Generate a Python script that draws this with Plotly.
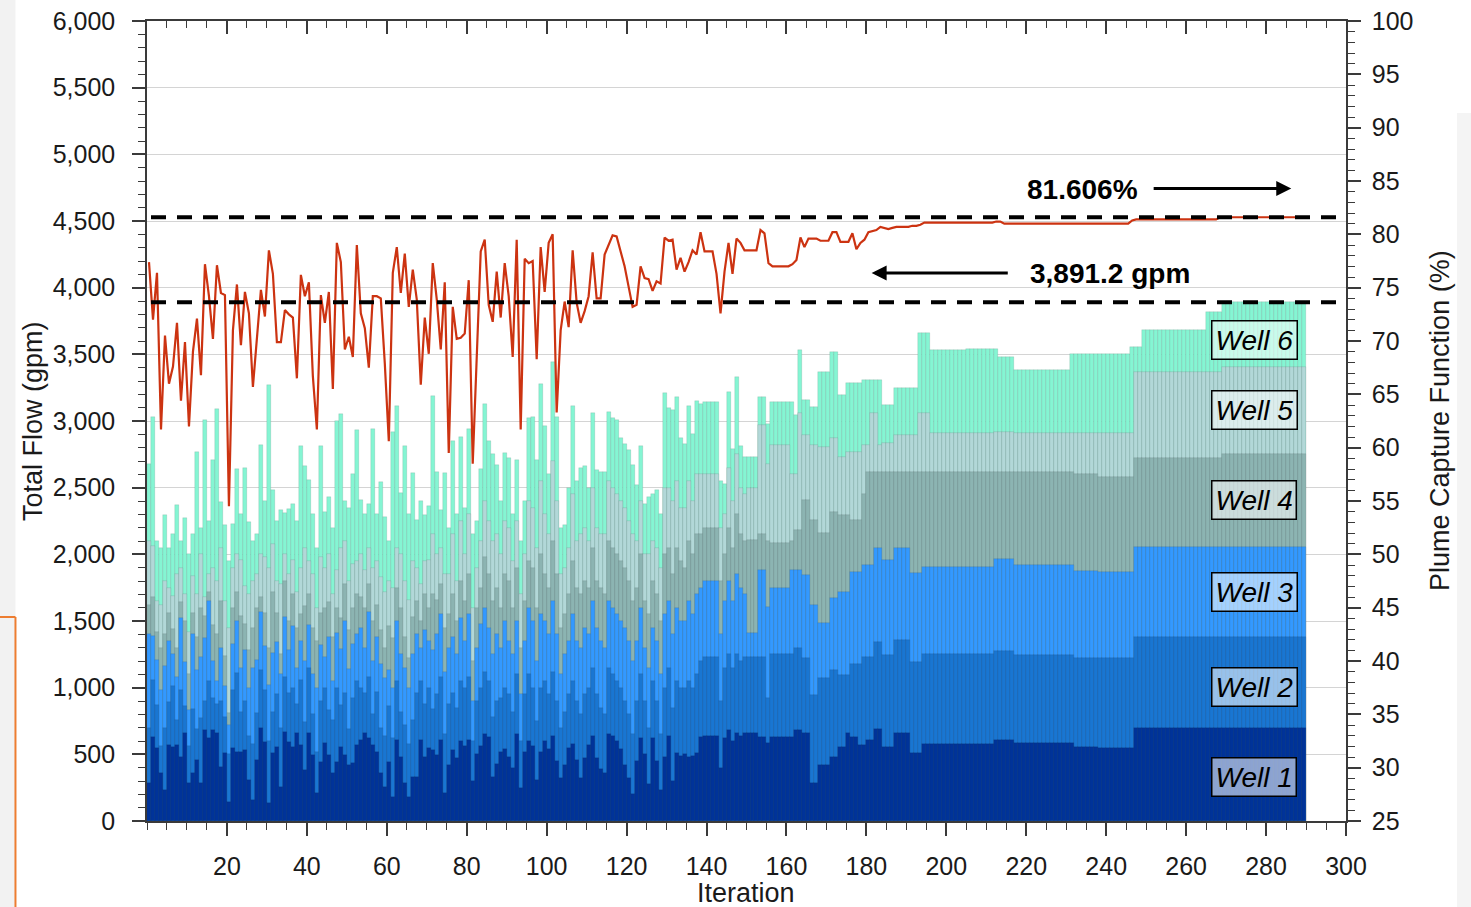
import plotly.graph_objects as go

# ---------------- data ----------------
iterations = list(range(1, 291))

# cumulative stack tops (gpm) for each well, bottom (Well 1) to top (Well 6 = total flow)
well1_top = [
    282, 632, 545, 357, 232, 570, 557, 570, 482, 657,
    282, 357, 457, 282, 682, 620, 682, 657, 407, 507,
    145, 545, 520, 520, 532, 307, 157, 457, 695, 595,
    132, 507, 557, 257, 670, 595, 557, 657, 570, 382,
    657, 495, 207, 445, 582, 495, 357, 445, 557, 495,
    420, 432, 570, 607, 657, 620, 570, 520, 357, 257,
    445, 182, 607, 482, 282, 182, 332, 332, 607, 482,
    545, 532, 495, 607, 207, 420, 530, 470, 600, 560,
    610, 300, 500, 560, 650, 630, 330, 430, 520, 540,
    480, 400, 650, 250, 520, 600, 560, 310, 520, 600,
    540, 640, 450, 320, 420, 550, 580, 460, 320, 470,
    570, 640, 470, 390, 360, 650, 640, 600, 540, 420,
    320, 200, 450, 620, 500, 280, 620, 450, 230, 480,
    640, 300, 510, 490, 500, 480, 490, 510, 630, 640,
    640, 640, 640, 400, 620, 680, 600, 660, 640, 660,
    657, 657, 657, 632, 632, 582, 632, 632, 632, 632,
    632, 632, 682, 682, 657, 657, 282, 282, 420, 420,
    420, 482, 482, 557, 557, 657, 632, 632, 570, 570,
    607, 607, 687, 687, 557, 557, 557, 657, 657, 657,
    657, 512, 512, 512, 577, 577, 577, 577, 577, 577,
    577, 577, 577, 577, 577, 577, 577, 577, 577, 577,
    577, 577, 607, 607, 607, 607, 607, 587, 587, 587,
    587, 587, 587, 587, 587, 587, 587, 587, 587, 587,
    587, 587, 557, 557, 557, 557, 557, 557, 547, 547,
    547, 547, 547, 547, 547, 547, 547, 697, 697, 697,
    697, 697, 697, 697, 697, 697, 697, 697, 697, 697,
    697, 697, 697, 697, 697, 697, 697, 697, 697, 697,
    697, 697, 697, 697, 697, 697, 697, 697, 697, 697,
    697, 697, 697, 697, 697, 697, 697, 697, 697, 697,
]

well2_top = [
    700, 1060, 870, 560, 700, 890, 1010, 760, 980, 860,
    560, 840, 690, 770, 900, 1050, 920, 880, 900, 780,
    500, 980, 1110, 820, 900, 640, 580, 810, 1130, 980,
    600, 820, 950, 700, 1080, 960, 1000, 880, 1060, 740,
    1150, 800, 520, 900, 1000, 830, 760, 1000, 870, 960,
    690, 920, 1050, 1000, 960, 1080, 800, 970, 700, 640,
    860, 620, 1050, 820, 720, 580, 760, 960, 1050, 880,
    1000, 840, 950, 1080, 650, 880, 960, 850, 1050, 1000,
    1080, 600, 900, 1000, 1120, 1050, 780, 900, 920, 1000,
    950, 820, 1100, 600, 950, 1100, 1000, 750, 1000, 1050,
    950, 1120, 900, 700, 820, 950, 1050, 900, 800, 950,
    1000, 1150, 950, 850, 800, 1150, 1100, 1050, 1000, 900,
    800, 650, 900, 1100, 900, 700, 1050, 900, 650, 1000,
    1150, 850, 1050, 1000, 1000, 1050, 1000, 1100, 1200, 1230,
    1230, 1230, 1230, 900, 1150, 1250, 1150, 1250, 1200, 1230,
    1232, 1232, 1232, 1232, 1232, 920, 1252, 1252, 1252, 1252,
    1252, 1252, 1295, 1295, 1220, 1220, 945, 945, 1070, 1070,
    1070, 1132, 1132, 1095, 1095, 1095, 1177, 1177, 1177, 1232,
    1232, 1232, 1345, 1345, 1245, 1245, 1245, 1357, 1357, 1357,
    1357, 1195, 1195, 1195, 1252, 1252, 1252, 1252, 1252, 1252,
    1252, 1252, 1252, 1252, 1252, 1252, 1252, 1252, 1252, 1252,
    1252, 1252, 1277, 1277, 1277, 1277, 1277, 1245, 1245, 1245,
    1245, 1245, 1245, 1245, 1245, 1245, 1245, 1245, 1245, 1245,
    1245, 1245, 1220, 1220, 1220, 1220, 1220, 1220, 1220, 1220,
    1220, 1220, 1220, 1220, 1220, 1220, 1220, 1380, 1380, 1380,
    1380, 1380, 1380, 1380, 1380, 1380, 1380, 1380, 1380, 1380,
    1380, 1380, 1380, 1380, 1380, 1380, 1380, 1380, 1380, 1380,
    1380, 1380, 1380, 1380, 1380, 1380, 1380, 1380, 1380, 1380,
    1380, 1380, 1380, 1380, 1380, 1380, 1380, 1380, 1380, 1380,
]

well3_top = [
    1400, 1390, 1210, 980, 1160, 1350, 1250, 1080, 1520, 1190,
    830, 1400, 1130, 1230, 1370, 1650, 1200, 1050, 1300, 1010,
    720, 1330, 1500, 1150, 1280, 1000, 1150, 1210, 1570, 1310,
    1020, 1260, 1340, 1100, 1530, 1280, 1460, 1150, 1350, 1200,
    1470, 1100, 1000, 1320, 1230, 1380, 1050, 1410, 1290, 1500,
    1140, 1330, 1400, 1450, 1300, 1570, 1200, 1380, 1180, 1070,
    1130, 1000, 1500, 1250, 1150, 1000, 1250, 1400, 1300, 1430,
    1350, 1280, 1400, 1550, 1120, 1300, 1380, 1250, 1520, 1350,
    1550, 900, 1300, 1480, 1600, 1450, 1250, 1400, 1300, 1500,
    1350, 1250, 1500, 950, 1350, 1600, 1500, 1200, 1550, 1500,
    1400, 1650, 1400, 1100, 1250, 1350, 1550, 1350, 1300, 1450,
    1400, 1650, 1450, 1350, 1300, 1650, 1600, 1550, 1500, 1450,
    1350, 1200, 1350, 1600, 1300, 1150, 1450, 1350, 1100, 1550,
    1650, 1400, 1600, 1500, 1500, 1650, 1550, 1700, 1750, 1800,
    1800, 1800, 1800, 1400, 1650, 1800, 1650, 1850, 1750, 1700,
    1407, 1407, 1407, 1882, 1882, 1607, 1745, 1745, 1745, 1745,
    1745, 1882, 1882, 1882, 1845, 1845, 1620, 1620, 1487, 1487,
    1487, 1670, 1670, 1720, 1720, 1720, 1870, 1870, 1870, 1920,
    1920, 1920, 2045, 2045, 1957, 1957, 1957, 2045, 2045, 2045,
    2045, 1857, 1857, 1857, 1907, 1907, 1907, 1907, 1907, 1907,
    1907, 1907, 1907, 1907, 1907, 1907, 1907, 1907, 1907, 1907,
    1907, 1907, 1965, 1965, 1965, 1965, 1965, 1920, 1920, 1920,
    1920, 1920, 1920, 1920, 1920, 1920, 1920, 1920, 1920, 1920,
    1920, 1920, 1877, 1877, 1877, 1877, 1877, 1877, 1867, 1867,
    1867, 1867, 1867, 1867, 1867, 1867, 1867, 2055, 2055, 2055,
    2055, 2055, 2055, 2055, 2055, 2055, 2055, 2055, 2055, 2055,
    2055, 2055, 2055, 2055, 2055, 2055, 2055, 2055, 2055, 2055,
    2055, 2055, 2055, 2055, 2055, 2055, 2055, 2055, 2055, 2055,
    2055, 2055, 2055, 2055, 2055, 2055, 2055, 2055, 2055, 2055,
]

well4_top = [
    1620, 1680, 1420, 1300, 1400, 1560, 1440, 1300, 1640, 1500,
    1100, 1560, 1380, 1600, 1540, 1720, 1470, 1400, 1650, 1240,
    810, 1600, 1720, 1540, 1480, 1280, 1450, 1600, 1680, 1560,
    1300, 1720, 1560, 1250, 1800, 1500, 1700, 1450, 1550, 1610,
    1700, 1450, 1350, 1560, 1600, 1640, 1380, 1600, 1520, 1780,
    1430, 1600, 1700, 1680, 1600, 1780, 1500, 1620, 1430, 1300,
    1460, 1370, 1750, 1600, 1380, 1220, 1530, 1650, 1500, 1700,
    1600, 1700, 1660, 1780, 1450, 1550, 1700, 1500, 1800, 1650,
    1850, 1200, 1600, 1750, 1980, 1850, 1650, 1750, 1600, 1850,
    1800, 1600, 1900, 1300, 1650, 1950, 1900, 1600, 2000, 1850,
    1750, 2100, 1850, 1450, 1550, 1700, 1950, 1750, 1700, 1800,
    1750, 2050, 1800, 1750, 1700, 2100, 2050, 2000, 1950, 1900,
    1800, 1650, 1750, 2000, 1650, 1550, 1800, 1700, 1500, 2000,
    2050, 1850, 2050, 1950, 1900, 2100, 2000, 2150, 2150, 2200,
    2200, 2200, 2200, 1800, 2000, 2200, 2050, 2300, 2150, 2100,
    2107, 2107, 2107, 2150, 2150, 2100, 2082, 2082, 2082, 2082,
    2082, 2100, 2182, 2182, 2407, 2407, 2257, 2257, 2157, 2157,
    2157, 2320, 2320, 2295, 2295, 2295, 2257, 2257, 2257, 2450,
    2620, 2620, 2620, 2620, 2620, 2620, 2620, 2620, 2620, 2620,
    2620, 2620, 2620, 2620, 2620, 2620, 2620, 2620, 2620, 2620,
    2620, 2620, 2620, 2620, 2620, 2620, 2620, 2620, 2620, 2620,
    2620, 2620, 2620, 2620, 2620, 2620, 2620, 2620, 2620, 2620,
    2620, 2620, 2620, 2620, 2620, 2620, 2620, 2620, 2620, 2620,
    2620, 2620, 2600, 2600, 2600, 2600, 2600, 2600, 2580, 2580,
    2580, 2580, 2580, 2580, 2580, 2580, 2580, 2722, 2722, 2722,
    2722, 2722, 2722, 2722, 2722, 2722, 2722, 2722, 2722, 2722,
    2722, 2722, 2722, 2722, 2722, 2722, 2722, 2722, 2722, 2752,
    2752, 2752, 2752, 2752, 2752, 2752, 2752, 2752, 2752, 2752,
    2752, 2752, 2752, 2752, 2752, 2752, 2752, 2752, 2752, 2752,
]

well5_top = [
    2100, 2060, 1650, 1620, 1800, 1750, 1690, 1850, 1900, 1700,
    1420, 1840, 1700, 2000, 1680, 1850, 1900, 1800, 2050, 1650,
    1450, 1900, 2000, 1960, 1760, 1700, 1800, 1850, 2000, 1980,
    1900, 2080, 1800, 1780, 2000, 1850, 1960, 1720, 1900, 2050,
    1950, 1850, 1600, 1980, 1900, 2000, 1700, 1880, 2050, 2100,
    1800, 1930, 1950, 2000, 1880, 2050, 1900, 1950, 1830, 1720,
    1800, 1750, 2050, 2000, 1800, 1660, 1950, 1900, 1780, 1950,
    1960, 2150, 2000, 2050, 1850, 1850, 2150, 1800, 2250, 2000,
    2300, 1600, 1900, 2100, 2400, 2250, 2100, 2150, 2000, 2250,
    2200, 1950, 2250, 1700, 2000, 2400, 2350, 2050, 2550, 2300,
    2150, 2700, 2400, 1850, 1900, 2050, 2450, 2100, 2150, 2200,
    2100, 2500, 2200, 2150, 2150, 2550, 2500, 2450, 2400, 2350,
    2250, 2150, 2100, 2400, 2000, 2000, 2100, 2050, 1900, 2500,
    2500, 2400, 2550, 2350, 2350, 2550, 2400, 2600, 2600, 2600,
    2600, 2600, 2600, 2200, 2300, 2650, 2400, 2750, 2500, 2450,
    2500, 2500, 2500, 2970, 2970, 2680, 2820, 2820, 2820, 2820,
    2820, 2600, 2600, 3057, 2895, 2895, 2820, 2820, 2807, 2807,
    2807, 2870, 2870, 2732, 2732, 2770, 2770, 2770, 2770, 2820,
    2820, 3057, 3057, 2820, 2832, 2832, 2832, 2895, 2895, 2895,
    2895, 2895, 2895, 3057, 3057, 3057, 2907, 2907, 2907, 2907,
    2907, 2907, 2907, 2907, 2907, 2907, 2907, 2907, 2907, 2907,
    2907, 2907, 2920, 2920, 2920, 2920, 2920, 2907, 2907, 2907,
    2907, 2907, 2907, 2907, 2907, 2907, 2907, 2907, 2907, 2907,
    2907, 2907, 2907, 2907, 2907, 2907, 2907, 2907, 2907, 2907,
    2907, 2907, 2907, 2907, 2907, 2907, 2907, 3370, 3370, 3370,
    3370, 3370, 3370, 3370, 3370, 3370, 3370, 3370, 3370, 3370,
    3370, 3370, 3370, 3370, 3370, 3370, 3370, 3370, 3370, 3407,
    3407, 3407, 3407, 3407, 3407, 3407, 3407, 3407, 3407, 3407,
    3407, 3407, 3407, 3407, 3407, 3407, 3407, 3407, 3407, 3407,
]

well6_top = [
    2680, 3030, 2100, 2050, 2295, 2050, 2150, 2370, 2100, 2270,
    2000, 2150, 2770, 2200, 3010, 2250, 2710, 3090, 2395, 2220,
    1950, 2230, 2640, 2300, 2650, 2240, 2100, 2150, 2820, 2400,
    3270, 2480, 2250, 2330, 2310, 2340, 2380, 2250, 2810, 2660,
    2560, 2300, 2050, 2810, 2320, 2430, 2200, 3000, 3050, 2400,
    2350, 2600, 2930, 2410, 2300, 2380, 2940, 2300, 2540, 2280,
    2100, 2920, 3110, 2460, 2810, 2300, 2610, 2260, 2400, 2295,
    2360, 3190, 2620, 2330, 2610, 2200, 2850, 2300, 2880, 2350,
    2940, 2150, 2250, 2640, 3130, 2850, 2750, 2670, 2400, 2760,
    2720, 2300, 2710, 2100, 2400, 3020, 3030, 2710, 3280, 2960,
    2600, 3440, 3030, 2200, 2220, 2500, 3110, 2550, 2650, 2660,
    2500, 3060, 2630, 2620, 2620, 3070, 3020, 3010, 2870, 2830,
    2780, 2670, 2520, 2810, 2380, 2430, 2450, 2480, 2300, 3210,
    3100, 3080, 3180, 2870, 2830, 3110, 2900, 3150, 3130, 3140,
    3140, 3140, 3140, 2550, 2530, 3220, 2790, 3330, 2810, 2730,
    2730, 2730, 2730, 3180, 3180, 2980, 3143, 3143, 3143, 3143,
    3143, 3143, 3045, 3532, 3158, 3158, 3105, 3105, 3368, 3368,
    3368, 3518, 3518, 3195, 3195, 3285, 3285, 3285, 3285, 3308,
    3308, 3308, 3308, 3308, 3120, 3120, 3120, 3248, 3248, 3248,
    3248, 3248, 3248, 3660, 3660, 3660, 3532, 3532, 3532, 3532,
    3532, 3532, 3532, 3532, 3532, 3540, 3540, 3540, 3540, 3540,
    3540, 3540, 3540, 3480, 3480, 3480, 3480, 3382, 3382, 3382,
    3382, 3382, 3382, 3382, 3382, 3382, 3382, 3382, 3382, 3382,
    3382, 3500, 3500, 3500, 3500, 3500, 3500, 3500, 3500, 3500,
    3500, 3500, 3500, 3500, 3500, 3500, 3555, 3555, 3555, 3682,
    3682, 3682, 3682, 3682, 3682, 3682, 3682, 3682, 3682, 3682,
    3682, 3682, 3682, 3682, 3682, 3817, 3817, 3817, 3817, 3892,
    3892, 3892, 3892, 3892, 3892, 3892, 3892, 3892, 3892, 3892,
    3892, 3892, 3892, 3892, 3892, 3892, 3892, 3892, 3892, 3892,
]

# plume capture function (%) per iteration (right axis)
capture_pct = [
    77.4, 72.0, 76.4, 61.7, 70.5, 66.0, 67.6, 71.7, 64.4, 69.9,
    62.0, 69.0, 72.1, 66.8, 77.2, 74.2, 70.2, 77.1, 74.5, 74.3,
    54.5, 71.0, 75.3, 69.6, 74.6, 72.6, 65.7, 70.3, 74.8, 72.3,
    78.5, 76.3, 69.9, 69.9, 72.9, 72.5, 72.2, 66.5, 76.2, 74.2,
    75.5, 66.7, 61.7, 74.3, 71.7, 74.6, 65.5, 79.2, 77.4, 69.2,
    70.4, 68.5, 79.0, 72.6, 71.2, 67.5, 74.2, 74.2, 74.0, 67.9,
    60.6, 76.4, 78.8, 74.5, 78.2, 73.2, 76.7, 73.9, 65.9, 72.2,
    68.8, 77.3, 73.9, 69.2, 75.5, 59.5, 73.2, 70.2, 70.3, 70.7,
    75.7, 58.5, 68.2, 78.4, 79.5, 73.4, 71.8, 76.5, 72.2, 77.3,
    74.2, 68.5, 79.5, 61.7, 77.7, 77.3, 77.5, 68.3, 78.8, 74.6,
    79.2, 80.0, 63.3, 71.0, 73.7, 71.3, 78.5, 73.6, 71.7, 72.8,
    74.2, 78.3, 74.0, 74.0, 78.1, 79.0, 79.9, 79.8, 78.5, 77.0,
    75.1, 73.2, 73.4, 77.0, 75.9, 75.8, 74.7, 75.6, 75.4, 79.7,
    79.4, 79.5, 76.7, 77.8, 76.5, 77.4, 78.5, 78.1, 80.2, 78.4,
    78.4, 78.4, 76.3, 72.6, 76.5, 79.2, 76.3, 79.6, 79.2, 78.5,
    78.5, 78.5, 78.5, 80.4, 80.1, 77.3, 77.0, 77.0, 77.0, 77.0,
    77.0, 77.2, 77.6, 79.7, 78.8, 79.6, 79.6, 79.6, 79.4, 79.4,
    79.4, 80.2, 80.2, 79.3, 79.3, 79.3, 80.1, 78.6, 79.2, 79.5,
    80.2, 80.3, 80.4, 80.7, 80.6, 80.5, 80.6, 80.7, 80.7, 80.7,
    80.7, 80.8, 80.8, 80.9, 81.1, 81.1, 81.1, 81.1, 81.1, 81.1,
    81.1, 81.1, 81.1, 81.1, 81.1, 81.1, 81.1, 81.1, 81.1, 81.1,
    81.1, 81.1, 81.2, 81.2, 81.0, 81.0, 81.0, 81.0, 81.0, 81.0,
    81.0, 81.0, 81.0, 81.0, 81.0, 81.0, 81.0, 81.0, 81.0, 81.0,
    81.0, 81.0, 81.0, 81.0, 81.0, 81.0, 81.0, 81.0, 81.0, 81.0,
    81.0, 81.0, 81.0, 81.0, 81.0, 81.0, 81.3, 81.4, 81.4, 81.4,
    81.4, 81.4, 81.4, 81.4, 81.4, 81.4, 81.4, 81.4, 81.4, 81.4,
    81.4, 81.4, 81.4, 81.4, 81.4, 81.4, 81.4, 81.4, 81.6, 81.6,
    81.6, 81.6, 81.6, 81.6, 81.6, 81.6, 81.6, 81.6, 81.6, 81.6,
    81.6, 81.6, 81.6, 81.6, 81.6, 81.6, 81.6, 81.6, 81.6, 81.6,
]

best_capture = 81.606
best_flow = 3891.2
well_names = ["Well 1", "Well 2", "Well 3", "Well 4", "Well 5", "Well 6"]
well_label_y = [330, 1005, 1717, 2407, 3082, 3607]
x_ticks = list(range(20, 301, 20))

# ---------------- styling ----------------
FONT = "Liberation Sans, Arial, Helvetica, sans-serif"
colors = ["#003399", "#1976d2", "#3399ff", "#8cb4b2", "#b2d8d8", "#85f5d3"]
tops = [well1_top, well2_top, well3_top, well4_top, well5_top, well6_top]
xpos = [i - 0.5 for i in iterations]

fig = go.Figure()

# draw cumulative tops from the total downwards (overlay == stacked look)
for k in range(5, -1, -1):
    fig.add_trace(go.Bar(
        x=xpos, y=tops[k], width=1.0, name=well_names[k],
        marker=dict(color=colors[k], line=dict(color="rgba(40,40,40,0.22)", width=0.5)),
        showlegend=False, hoverinfo="skip",
    ))

fig.add_trace(go.Scatter(
    x=xpos, y=capture_pct, mode="lines", yaxis="y2",
    line=dict(color="#cc3311", width=2.2), showlegend=False, hoverinfo="skip",
))

# invisible trace to activate the mirrored top axis
fig.add_trace(go.Scatter(x=[0], y=[0], xaxis="x2", mode="markers",
                         marker=dict(opacity=0), showlegend=False, hoverinfo="skip"))

axis_line = "#3a3a3a"
tickfont = dict(family=FONT, size=25, color="#1a1a1a")

fig.update_layout(
    width=1471, height=907,
    margin=dict(l=147, r=125, t=21, b=86, autoexpand=False),
    paper_bgcolor="white", plot_bgcolor="white",
    barmode="overlay", bargap=0,
    font=dict(family=FONT, color="#1a1a1a"),
    xaxis=dict(
        range=[0, 300], tickmode="array", tickvals=x_ticks, automargin=False,
        ticks="outside", ticklen=13, tickwidth=1.5, tickcolor=axis_line,
        minor=dict(tickvals=list(range(0, 301, 5)), ticks="outside", ticklen=7,
                   tickwidth=1.2, tickcolor=axis_line),
        showline=True, linecolor=axis_line, linewidth=1.6,
        showgrid=False, zeroline=False, tickfont=tickfont, ticklabelstandoff=9,
    ),
    xaxis2=dict(
        range=[0, 300], overlaying="x", side="top", anchor="y", automargin=False,
        tickmode="array", tickvals=x_ticks, ticks="inside", ticklen=13,
        tickwidth=1.5, tickcolor=axis_line,
        minor=dict(tickvals=list(range(0, 301, 5)), ticks="inside", ticklen=7,
                   tickwidth=1.2, tickcolor=axis_line),
        showticklabels=False, showline=True, linecolor=axis_line, linewidth=1.6,
        showgrid=False, zeroline=False,
    ),
    yaxis=dict(
        range=[0, 6000], tickmode="linear", tick0=0, dtick=500, tickformat=",",
        automargin=False,
        ticks="outside", ticklen=13, tickwidth=1.5, tickcolor=axis_line,
        minor=dict(dtick=100, ticks="outside", ticklen=7, tickwidth=1.2, tickcolor=axis_line),
        showline=True, linecolor=axis_line, linewidth=1.6,
        showgrid=True, gridcolor="#d4d4d4", gridwidth=1, zeroline=False,
        tickfont=tickfont, ticklabelstandoff=12,
    ),
    yaxis2=dict(
        range=[25, 100], overlaying="y", side="right", anchor="x", automargin=False,
        tickmode="linear", tick0=25, dtick=5,
        ticks="outside", ticklen=13, tickwidth=1.5, tickcolor=axis_line,
        minor=dict(dtick=1, ticks="outside", ticklen=7, tickwidth=1.2, tickcolor=axis_line),
        showline=True, linecolor=axis_line, linewidth=1.6,
        showgrid=False, zeroline=False, tickfont=tickfont, ticklabelstandoff=6,
    ),
)

# dashed reference lines
fig.add_shape(type="line", xref="x", yref="y2", x0=1, x1=299,
              y0=best_capture, y1=best_capture,
              line=dict(color="black", width=4, dash="15px,11px"))
fig.add_shape(type="line", xref="x", yref="y", x0=1, x1=299,
              y0=best_flow, y1=best_flow,
              line=dict(color="black", width=4, dash="15px,11px"))

# slide-frame decorations
fig.add_shape(type="rect", xref="paper", yref="paper", x0=-0.1226, x1=-0.1097,
              y0=-0.1075, y1=1.0263, line=dict(width=0), fillcolor="#f2f2f2", layer="below")
fig.add_shape(type="rect", xref="paper", yref="paper", x0=1.0926, x1=1.1043,
              y0=-0.1075, y1=0.885, line=dict(width=0), fillcolor="#f4f4f4", layer="below")
fig.add_shape(type="line", xref="paper", yref="paper", x0=-0.1097, x1=-0.1097,
              y0=0.255, y1=-0.1075, line=dict(color="#ed7d31", width=2))
fig.add_shape(type="line", xref="paper", yref="paper", x0=-0.1226, x1=-0.1097,
              y0=0.255, y1=0.255, line=dict(color="#ed7d31", width=2))

ann = []
# axis titles
ann.append(dict(text="Total Flow (gpm)", xref="paper", yref="paper", x=-0.0951, y=0.5,
                xanchor="center", yanchor="middle",
                textangle=-90, showarrow=False, font=dict(family=FONT, size=27)))
ann.append(dict(text="Plume Capture Function (%)", xref="paper", yref="paper", x=1.0784, y=0.5,
                xanchor="center", yanchor="middle",
                textangle=-90, showarrow=False, font=dict(family=FONT, size=27)))
ann.append(dict(text="Iteration", xref="paper", yref="paper", x=0.4996, y=-0.09,
                xanchor="center", yanchor="middle",
                showarrow=False, font=dict(family=FONT, size=27)))

# value callouts and arrows
ann.append(dict(text="<b>81.606%</b>", x=234, y=84.16, xref="x", yref="y2",
                showarrow=False, font=dict(family=FONT, size=28, color="black")))
ann.append(dict(text="", x=286.3, y=84.3, ax=251.5, ay=84.3, xref="x", yref="y2",
                axref="x", ayref="y2", showarrow=True, arrowhead=2, arrowsize=1,
                arrowwidth=3, arrowcolor="black"))
ann.append(dict(text="<b>3,891.2 gpm</b>", x=241, y=4110, xref="x", yref="y",
                showarrow=False, font=dict(family=FONT, size=28, color="black")))
ann.append(dict(text="", x=181.3, y=4110, ax=215.75, ay=4110, xref="x", yref="y",
                axref="x", ayref="y", showarrow=True, arrowhead=2, arrowsize=1,
                arrowwidth=3, arrowcolor="black"))

# well labels
for name, yv in zip(well_names, well_label_y):
    ann.append(dict(text="<i>" + name + "</i>", x=277, y=yv, xref="x", yref="y",
                    showarrow=False, font=dict(family=FONT, size=28, color="black"),
                    bgcolor="rgba(255,255,255,0.55)", bordercolor="black",
                    borderwidth=1.5, borderpad=3))

fig.update_layout(annotations=ann)

fig.write_html("out.html")
